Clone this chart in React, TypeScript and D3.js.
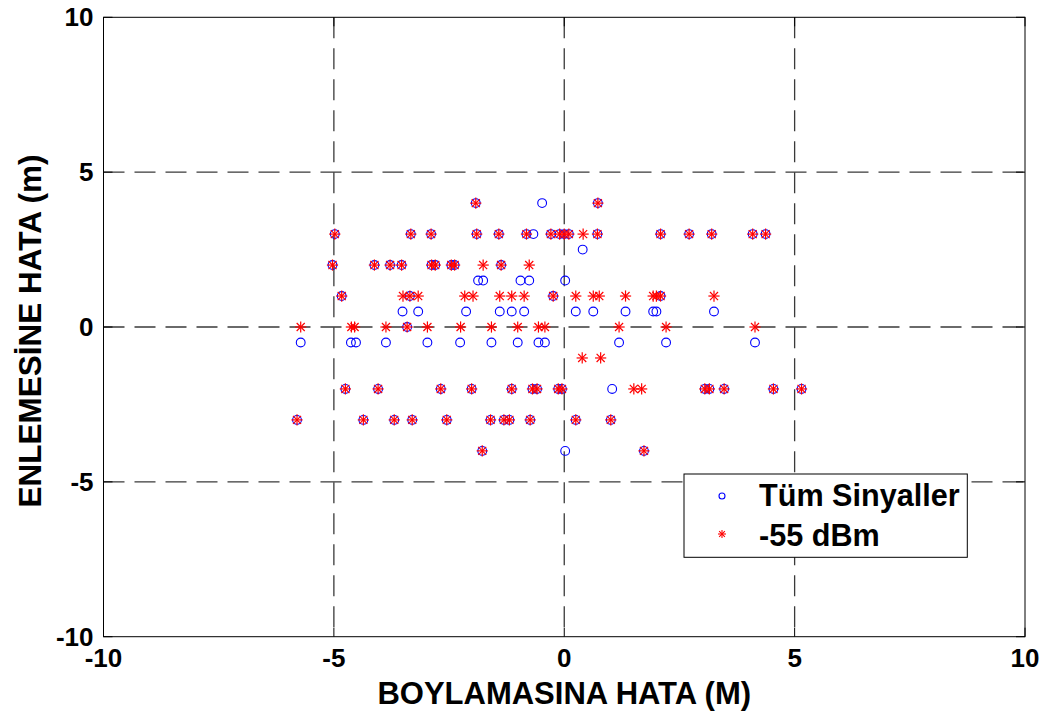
import React from "react";
import * as d3 from "d3";

// Data: [x (BOYLAMASINA HATA), y (ENLEMESİNE HATA)]
const tumSinyaller: [number, number][] = [
  [-1.92, 4], [-0.48, 4], [0.73, 4],
  [-4.98, 3], [-3.33, 3], [-2.89, 3], [-1.9, 3], [-1.42, 3], [-0.82, 3], [-0.67, 3], [-0.29, 3],
  [-0.1, 3], [0.0, 3], [0.1, 3], [0.72, 3], [2.09, 3], [2.71, 3], [3.2, 3], [4.09, 3], [4.37, 3],
  [0.4, 2.5],
  [-5.03, 2], [-4.12, 2], [-3.78, 2], [-3.53, 2], [-2.88, 2], [-2.8, 2], [-2.45, 2], [-2.38, 2], [-1.37, 2],
  [-1.87, 1.5], [-1.76, 1.5], [-0.95, 1.5], [-0.76, 1.5], [0.02, 1.5],
  [-4.83, 1], [-3.35, 1], [-0.24, 1], [2.09, 1],
  [-3.51, 0.5], [-3.17, 0.5], [-2.13, 0.5], [-1.4, 0.5], [-1.14, 0.5], [-0.87, 0.5], [0.25, 0.5],
  [0.63, 0.5], [1.33, 0.5], [1.93, 0.5], [2.0, 0.5], [3.25, 0.5],
  [-3.41, 0],
  [-5.72, -0.5], [-4.63, -0.5], [-4.52, -0.5], [-3.87, -0.5], [-2.97, -0.5], [-2.26, -0.5], [-1.58, -0.5],
  [-1.01, -0.5], [-0.56, -0.5], [-0.42, -0.5], [1.19, -0.5], [2.21, -0.5], [4.14, -0.5],
  [-4.75, -2], [-4.04, -2], [-2.68, -2], [-2.01, -2], [-1.14, -2], [-0.69, -2], [-0.59, -2], [-0.13, -2],
  [-0.05, -2], [1.04, -2], [3.05, -2], [3.15, -2], [3.47, -2], [4.54, -2], [5.15, -2],
  [-5.8, -3], [-4.36, -3], [-3.69, -3], [-3.3, -3], [-2.55, -3], [-1.6, -3], [-1.31, -3], [-1.19, -3],
  [-0.74, -3], [0.25, -3], [1.01, -3],
  [-1.78, -4], [0.02, -4], [1.73, -4],
];

const dbm55: [number, number][] = [
  [-1.92, 4], [0.73, 4],
  [-4.98, 3], [-3.33, 3], [-2.89, 3], [-1.9, 3], [-1.42, 3], [-0.82, 3], [-0.29, 3], [-0.1, 3], [0.0, 3],
  [0.1, 3], [0.41, 3], [0.72, 3], [2.09, 3], [2.71, 3], [3.2, 3], [4.09, 3], [4.37, 3],
  [-5.03, 2], [-4.12, 2], [-3.78, 2], [-3.53, 2], [-2.88, 2], [-2.8, 2], [-2.45, 2], [-2.38, 2], [-1.76, 2],
  [-1.37, 2], [-0.76, 2],
  [-4.83, 1], [-3.5, 1], [-3.35, 1], [-3.17, 1], [-2.16, 1], [-1.98, 1], [-1.4, 1], [-1.14, 1], [-0.87, 1],
  [-0.24, 1], [0.25, 1], [0.63, 1], [0.76, 1], [1.33, 1], [1.93, 1], [2.0, 1], [2.09, 1], [3.25, 1],
  [-5.72, 0], [-4.62, 0], [-4.55, 0], [-3.87, 0], [-3.41, 0], [-2.97, 0], [-2.25, 0], [-1.58, 0], [-1.01, 0],
  [-0.56, 0], [-0.42, 0], [1.19, 0], [2.21, 0], [4.14, 0],
  [0.39, -1], [0.79, -1],
  [-4.75, -2], [-4.04, -2], [-2.68, -2], [-2.01, -2], [-1.14, -2], [-0.69, -2], [-0.59, -2], [-0.13, -2],
  [-0.05, -2], [1.51, -2], [1.68, -2], [3.05, -2], [3.15, -2], [3.47, -2], [4.54, -2], [5.15, -2],
  [-5.8, -3], [-4.36, -3], [-3.69, -3], [-3.3, -3], [-2.55, -3], [-1.6, -3], [-1.31, -3], [-1.19, -3],
  [-0.74, -3], [0.25, -3], [1.01, -3],
  [-1.78, -4], [1.73, -4],
];

const xTicks = [-10, -5, 0, 5, 10];
const yTicks = [-10, -5, 0, 5, 10];
const legendLabels = ["Tüm Sinyaller", "-55 dBm"];
const xLabel = "BOYLAMASINA HATA (M)";
const yLabel = "ENLEMESİNE HATA (m)";

const W = 1048;
const H = 715;
const plot = { left: 103.5, right: 1025, top: 17.3, bottom: 636.7 };
const FONT = "'Liberation Sans', Arial, Helvetica, sans-serif";

function Star({ x, y, s, w = 1.2 }: { x: number; y: number; s: number; w?: number }) {
  const d = s * 0.72;
  return (
    <g stroke="#ff0000" strokeWidth={w} fill="none">
      <line x1={x - s} y1={y} x2={x + s} y2={y} />
      <line x1={x} y1={y - s} x2={x} y2={y + s} />
      <line x1={x - d} y1={y - d} x2={x + d} y2={y + d} />
      <line x1={x - d} y1={y + d} x2={x + d} y2={y - d} />
    </g>
  );
}

export default function App() {
  const xs = d3.scaleLinear().domain([-10, 10]).range([plot.left, plot.right]);
  const ys = d3.scaleLinear().domain([-10, 10]).range([plot.bottom, plot.top]);
  const gridVals = [-5, 0, 5];
  const legend = { x: 684, y: 474, w: 283.3, h: 83.3 };

  return (
    <svg
      width={W}
      height={H}
      style={{ position: "absolute", left: 0, top: 0, background: "#fff" }}
      fontFamily={FONT}
    >
      <rect x={0} y={0} width={W} height={H} fill="#fff" />
      {/* grid */}
      <g stroke="#3a3a3a" strokeWidth={1.3} strokeDasharray="21,10">
        {gridVals.map((v) => (
          <line key={"gx" + v} x1={xs(v)} x2={xs(v)} y1={plot.top} y2={plot.bottom} />
        ))}
        {gridVals.map((v) => (
          <line key={"gy" + v} y1={ys(v)} y2={ys(v)} x1={plot.left} x2={plot.right} />
        ))}
      </g>
      {/* axes box */}
      <rect
        x={plot.left}
        y={plot.top}
        width={plot.right - plot.left}
        height={plot.bottom - plot.top}
        fill="none"
        stroke="#000"
        strokeWidth={1}
      />
      {/* ticks */}
      <g stroke="#000" strokeWidth={1}>
        {xTicks.map((v) => (
          <g key={"tx" + v}>
            <line x1={xs(v)} x2={xs(v)} y1={plot.bottom} y2={plot.bottom - 9} />
            <line x1={xs(v)} x2={xs(v)} y1={plot.top} y2={plot.top + 9} />
          </g>
        ))}
        {yTicks.map((v) => (
          <g key={"ty" + v}>
            <line y1={ys(v)} y2={ys(v)} x1={plot.left} x2={plot.left + 9} />
            <line y1={ys(v)} y2={ys(v)} x1={plot.right} x2={plot.right - 9} />
          </g>
        ))}
      </g>
      {/* tick labels */}
      <g fontSize={26} fontWeight="bold" fill="#000">
        {xTicks.map((v) => (
          <text key={"lx" + v} x={xs(v)} y={667} textAnchor="middle">
            {v}
          </text>
        ))}
        {yTicks.map((v) => (
          <text key={"ly" + v} x={plot.left - 10} y={ys(v) + 9} textAnchor="end">
            {v}
          </text>
        ))}
      </g>
      {/* axis labels */}
      <text
        x={(plot.left + plot.right) / 2}
        y={704}
        textAnchor="middle"
        fontSize={31}
        fontWeight="bold"
      >
        {xLabel}
      </text>
      <text
        transform={`translate(41, 331) rotate(-90)`}
        textAnchor="middle"
        fontSize={31.5}
        fontWeight="bold"
      >
        {yLabel}
      </text>
      {/* data: circles */}
      <g fill="none" stroke="#0000ff" strokeWidth={1.1}>
        {tumSinyaller.map(([x, y], i) => (
          <circle key={"c" + i} cx={xs(x)} cy={ys(y)} r={4.4} />
        ))}
      </g>
      {/* data: stars */}
      <g>
        {dbm55.map(([x, y], i) => (
          <Star key={"s" + i} x={xs(x)} y={ys(y)} s={5.6} />
        ))}
      </g>
      {/* legend */}
      <rect x={legend.x} y={legend.y} width={legend.w} height={legend.h} fill="#fff" stroke="#000" strokeWidth={1} />
      <circle cx={722} cy={496} r={3} fill="none" stroke="#0000ff" strokeWidth={1.1} />
      <Star x={722} y={534} s={4} w={1.1} />
      <text x={759} y={506} fontSize={30.6} fontWeight="bold">
        {legendLabels[0]}
      </text>
      <text x={759} y={546} fontSize={30.6} fontWeight="bold">
        {legendLabels[1]}
      </text>
    </svg>
  );
}
